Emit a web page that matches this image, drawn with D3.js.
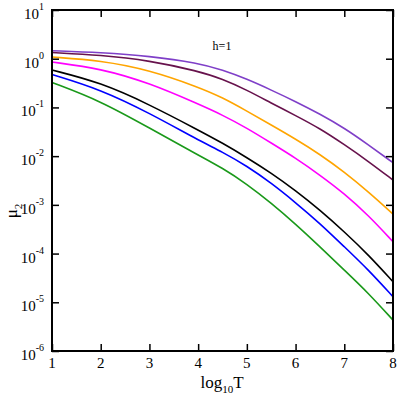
<!DOCTYPE html>
<html>
<head>
<meta charset="utf-8">
<script src="https://cdn.jsdelivr.net/npm/d3@7"></script>
<style>
  html, body { margin: 0; padding: 0; background: #fff; }
  svg { display: block; font-family: "Liberation Serif", "Times New Roman", serif; }
</style>
</head>
<body>
<div id="chart"></div>
<script>
// log10 T sample points
const logT = [1, 2, 3, 4, 4.5, 5, 5.5, 6, 6.5, 7, 7.5, 8];

// log10(mu_2) per curve, top to bottom
const violet  = [0.164, 0.127, 0.055, -0.088, -0.232, -0.417, -0.643, -0.879, -1.136, -1.423, -1.772, -2.135];
const maroon  = [0.127, 0.076, -0.037, -0.253, -0.417, -0.643, -0.910, -1.166, -1.433, -1.762, -2.111, -2.491];
const orange  = [0.035, -0.037, -0.232, -0.581, -0.797, -1.074, -1.361, -1.649, -1.963, -2.326, -2.737, -3.189];
const magenta = [-0.068, -0.201, -0.499, -0.930, -1.156, -1.423, -1.731, -2.039, -2.388, -2.768, -3.220, -3.758];
const black   = [-0.232, -0.489, -0.940, -1.464, -1.731, -2.029, -2.347, -2.706, -3.107, -3.552, -4.031, -4.579];
const blue    = [-0.324, -0.632, -1.115, -1.669, -1.916, -2.203, -2.552, -2.953, -3.380, -3.860, -4.339, -4.887];
const green   = [-0.489, -0.869, -1.423, -1.977, -2.244, -2.573, -2.963, -3.394, -3.860, -4.339, -4.817, -5.366];

const xTicks = [1, 2, 3, 4, 5, 6, 7, 8];
const yExponents = [1, 0, -1, -2, -3, -4, -5, -6];

const series = [
    { color: "#7f3fc8", values: violet },
    { color: "#67124c", values: maroon },
    { color: "#ffa500", values: orange },
    { color: "#ff00ff", values: magenta },
    { color: "#000000", values: black },
    { color: "#0000ff", values: blue },
    { color: "#1a991a", values: green }
];

const W = 399, H = 394;
const m = { left: 52, right: 6, top: 10, bottom: 43 };

const svg = d3.select("#chart").append("svg")
    .attr("width", W).attr("height", H);

const x = d3.scaleLinear().domain([1, 8]).range([m.left, W - m.right]);
const y = d3.scaleLog().domain([1e-6, 10]).range([H - m.bottom, m.top]);

// --- courbes (lissées) ---
const line = d3.line()
    .x((d, i) => x(logT[i]))
    .y(d => y(Math.pow(10, d)))
    .curve(d3.curveBasis);

svg.append("g").selectAll("path").data(series).join("path")
    .attr("fill", "none")
    .attr("stroke", d => d.color)
    .attr("stroke-width", 1.6)
    .attr("d", d => line(d.values));

// --- axes (ticks vers l'intérieur) ---
const decades = yExponents.map(e => Math.pow(10, e));
const tick = 7;

svg.append("g").attr("transform", `translate(0,${H - m.bottom})`)
    .call(d3.axisBottom(x).tickValues(xTicks).tickSize(-tick).tickFormat(""));
svg.append("g").attr("transform", `translate(0,${m.top})`)
    .call(d3.axisTop(x).tickValues(xTicks).tickSize(-tick).tickFormat(""));
svg.append("g").attr("transform", `translate(${m.left},0)`)
    .call(d3.axisLeft(y).tickValues(decades).tickSize(-tick).tickFormat(""));
svg.append("g").attr("transform", `translate(${W - m.right},0)`)
    .call(d3.axisRight(y).tickValues(decades).tickSize(-tick).tickFormat(""));

svg.selectAll(".domain").remove();
svg.selectAll(".tick line").attr("stroke", "#000").attr("stroke-width", 1.5);

svg.append("rect")
    .attr("x", m.left).attr("y", m.top)
    .attr("width", W - m.right - m.left).attr("height", H - m.bottom - m.top)
    .attr("fill", "none").attr("stroke", "#000").attr("stroke-width", 2);

// --- labels des ticks ---
svg.append("g").selectAll("text").data(xTicks).join("text")
    .attr("x", d => x(d)).attr("y", H - m.bottom + 17)
    .attr("text-anchor", "middle")
    .style("font-size", "15px")
    .text(d => d);

const yl = svg.append("g").selectAll("text").data(yExponents).join("text")
    .attr("x", 44).attr("y", d => y(Math.pow(10, d)) + 9)
    .attr("text-anchor", "end")
    .style("font-size", "15px");
yl.append("tspan").text("10");
yl.append("tspan").attr("dy", -9).style("font-size", "10px").text(d => d);

// --- titres ---
const xt = svg.append("text")
    .attr("x", 222).attr("y", 388)
    .attr("text-anchor", "middle")
    .style("font-size", "17px");
xt.append("tspan").text("log");
xt.append("tspan").attr("dy", 5).style("font-size", "11px").text("10");
xt.append("tspan").attr("dy", -5).text("T");

const yt = svg.append("text")
    .attr("transform", "translate(17,211) rotate(-90)")
    .attr("text-anchor", "middle")
    .style("font-size", "17px");
yt.append("tspan").text("μ");
yt.append("tspan").attr("dy", 5).style("font-size", "11px").text("2");

svg.append("text")
    .attr("x", 222).attr("y", 50)
    .attr("text-anchor", "middle")
    .style("font-size", "12px")
    .text("h=1");
</script>
</body>
</html>
